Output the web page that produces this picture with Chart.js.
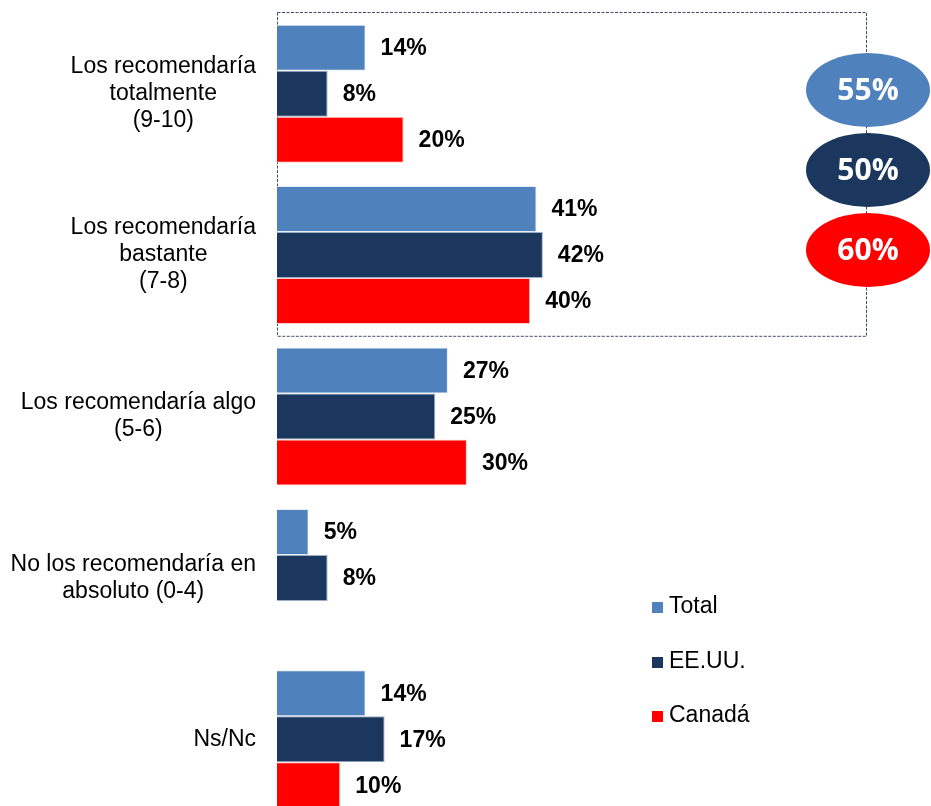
<!DOCTYPE html>
<html>
<head>
<meta charset="utf-8">
<script src="https://cdn.jsdelivr.net/npm/chart.js@4.4.1/dist/chart.umd.min.js"></script>
<style>
  html, body { margin: 0; padding: 0; background: #fff; overflow: hidden; }
  #wrap { width: 931px; height: 806px; overflow: hidden; }
</style>
</head>
<body>
<div id="wrap"><canvas id="chart" width="931" height="830"></canvas></div>
<script>
'use strict';

// answers, one row of lines per category
let categories = [
  ['Los recomendaría', 'totalmente', '(9-10)'],
  ['Los recomendaría', 'bastante', '(7-8)'],
  ['Los recomendaría algo', '(5-6)'],
  ['No los recomendaría en', 'absoluto (0-4)'],
  ['Ns/Nc']
];

let seriesNames = ['Total', 'EE.UU.', 'Canadá'];
let totalValues = [14, 41, 27, 5, 14];
let usaValues = [8, 42, 25, 8, 17];
let canadaValues = [20, 40, 30, null, 10];

// share of "totalmente + bastante" for each series
let topBox = [55, 50, 60];

let colors = ['#4f81bd', '#1b375d', '#ff0000'];
let borders = ['#e6edf6', '#9aaec8', '#ffd0d0'];

let canvasElem = document.getElementById('chart');

// left side answer labels, lines centred inside a right aligned block
let labelPlugin = {
  id: 'answerLabels',
  afterDraw(chart) {
    let ctx = chart.ctx;
    let yScale = chart.scales.y;
    ctx.save();
    ctx.font = '23px "Liberation Sans", Arial, sans-serif';
    ctx.fillStyle = '#000';
    ctx.textBaseline = 'middle';
    ctx.textAlign = 'center';
    let lineH = 27;
    let right = 256;
    for (let i = 0; i < categories.length; i++) {
      let lines = categories[i];
      let maxW = 0;
      for (let j = 0; j < lines.length; j++) {
        maxW = Math.max(maxW, ctx.measureText(lines[j]).width);
      }
      let cx = right - maxW / 2;
      let cy = yScale.getPixelForValue(i);
      let startY = cy - (lines.length - 1) * lineH / 2;
      for (let j = 0; j < lines.length; j++) {
        ctx.fillText(lines[j], cx, startY + j * lineH);
      }
    }
    ctx.restore();
  }
};

// dotted box round the first two answers and the ovals with their totals
let boxPlugin = {
  id: 'topBox',
  beforeDatasetsDraw(chart) {
    let ctx = chart.ctx;
    let yScale = chart.scales.y;
    let area = chart.chartArea;
    let top = area.top - 1;
    let bottom = (yScale.getPixelForValue(1) + yScale.getPixelForValue(2)) / 2;
    ctx.save();
    ctx.strokeStyle = '#3d4f68';
    ctx.lineWidth = 1;
    ctx.setLineDash([3, 1.5]);
    ctx.strokeRect(area.left + 0.5, top + 0.5, 866 - area.left, bottom - top);
    ctx.restore();
  },
  afterDraw(chart) {
    let ctx = chart.ctx;
    let ys = [90, 170, 250];
    ctx.save();
    for (let i = 0; i < topBox.length; i++) {
      ctx.beginPath();
      ctx.ellipse(868, ys[i], 62, 37, 0, 0, Math.PI * 2);
      ctx.fillStyle = colors[i];
      ctx.fill();
      ctx.fillStyle = '#fff';
      ctx.font = 'bold 30px "Open Sans", "Noto Sans", sans-serif';
      ctx.textAlign = 'center';
      ctx.textBaseline = 'middle';
      ctx.fillText(topBox[i] + '%', 868, ys[i] + 1);
    }
    ctx.restore();
  }
};

// value labels at the end of each bar
let valuePlugin = {
  id: 'valueLabels',
  afterDatasetsDraw(chart) {
    let ctx = chart.ctx;
    ctx.save();
    ctx.font = 'bold 23px "Liberation Sans", Arial, sans-serif';
    ctx.fillStyle = '#000';
    ctx.textAlign = 'left';
    ctx.textBaseline = 'middle';
    chart.data.datasets.forEach(function (ds, d) {
      let meta = chart.getDatasetMeta(d);
      meta.data.forEach(function (bar, i) {
        if (ds.data[i] === null) return;
        ctx.fillText(ds.data[i] + '%', bar.x + 15, bar.y + 1);
      });
    });
    ctx.restore();
  }
};

// legend drawn bottom right, square markers
let legendPlugin = {
  id: 'sideLegend',
  afterDraw(chart) {
    let ctx = chart.ctx;
    let ys = [607, 662, 716];
    ctx.save();
    ctx.font = '23px "Liberation Sans", Arial, sans-serif';
    ctx.textAlign = 'left';
    ctx.textBaseline = 'middle';
    for (let i = 0; i < seriesNames.length; i++) {
      ctx.fillStyle = colors[i];
      ctx.fillRect(652, ys[i] - 5, 11, 11);
      ctx.fillStyle = '#000';
      ctx.fillText(seriesNames[i], 669, ys[i]);
    }
    ctx.restore();
  }
};

let chartObj = {
  type: 'bar',
  data: {
    labels: categories,
    datasets: [
      { label: seriesNames[0], data: totalValues, backgroundColor: colors[0], borderColor: borders[0], borderWidth: 1 },
      { label: seriesNames[1], data: usaValues, backgroundColor: colors[1], borderColor: borders[1], borderWidth: 1 },
      { label: seriesNames[2], data: canadaValues, backgroundColor: colors[2], borderColor: borders[2], borderWidth: 1 }
    ]
  },
  options: {
    indexAxis: 'y',
    responsive: false,
    animation: false,
    devicePixelRatio: 1,
    categoryPercentage: 0.855,
    barPercentage: 1,
    layout: {
      padding: { left: 277, right: 21, top: 13, bottom: 10 }
    },
    scales: {
      x: { display: false, min: 0, max: 100 },
      y: { display: false }
    },
    plugins: {
      legend: { display: false },
      tooltip: { enabled: false }
    }
  },
  plugins: [boxPlugin, valuePlugin, labelPlugin, legendPlugin]
};

new Chart(canvasElem, chartObj);
</script>
</body>
</html>
